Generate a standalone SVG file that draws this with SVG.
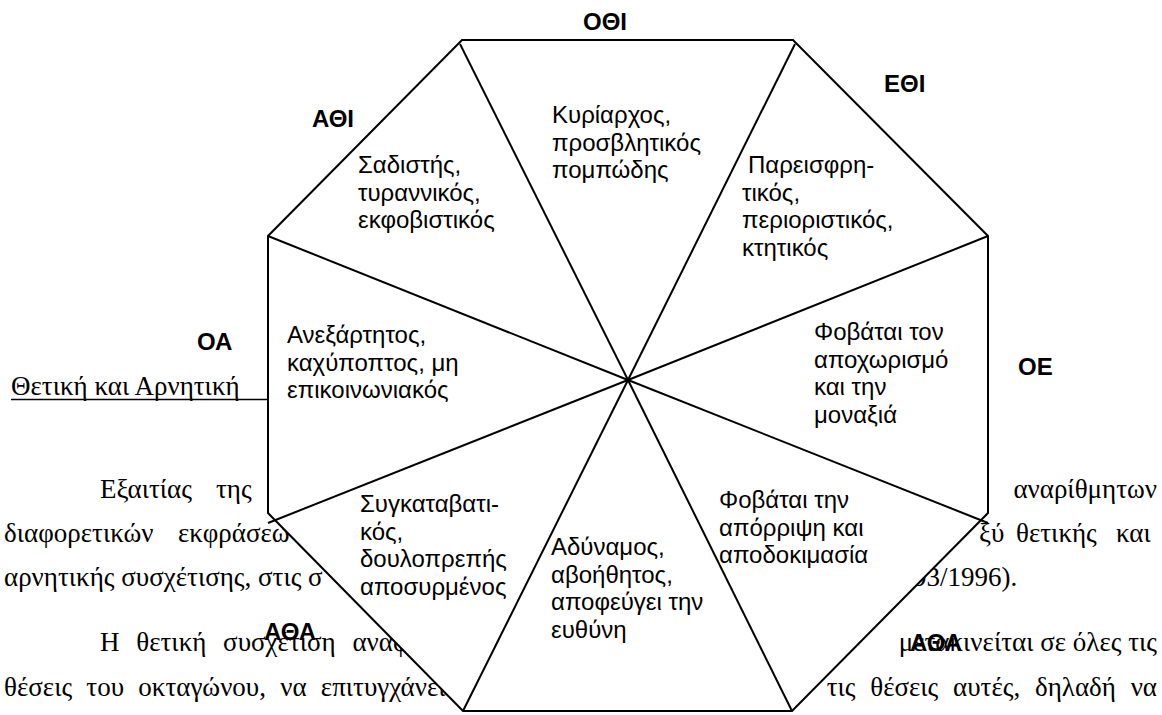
<svg xmlns="http://www.w3.org/2000/svg" width="1162" height="715" viewBox="0 0 1162 715">
<style>
.pg{font-family:"Liberation Serif","Times New Roman","DejaVu Serif",serif;font-size:27px;fill:#000}
.tx{font-family:"Liberation Sans",Arial,sans-serif;font-size:24px;fill:#000}
.lb{font-family:"Liberation Sans",Arial,sans-serif;font-size:24px;font-weight:bold;fill:#000}
.ln{stroke:#000;stroke-width:2;fill:none}
</style>
<rect width="1162" height="715" fill="#fff"/>
<g id="page-text">
<text class="pg" x="11" y="395">Θετική και Αρνητική</text>
<line x1="11" y1="399.5" x2="268" y2="399.5" stroke="#000" stroke-width="1.5"/>
<text class="pg" y="498"><tspan x="100">Εξαιτίας</tspan><tspan x="216">της</tspan></text>
<text class="pg" x="1157" y="498" text-anchor="end">αναρίθμητων</text>
<text class="pg" y="542"><tspan x="4">διαφορετικών</tspan><tspan x="178">εκφράσεω</tspan></text>
<text class="pg" y="542"><tspan x="979">ξύ</tspan><tspan x="1016">θετικής</tspan><tspan x="1116">και</tspan></text>
<text class="pg" x="4" y="586">αρνητικής συσχέτισης, στις σ</text>
<text class="pg" x="913" y="586">93/1996).</text>
<text class="pg" x="100" y="651" word-spacing="10">Η θετική συσχέτιση αναφ</text>
<text class="pg" x="1157" y="651" text-anchor="end">μετακινείται σε όλες τις</text>
<text class="pg" x="4" y="696" word-spacing="7.5">θέσεις του οκταγώνου, να επιτυγχάνει</text>
<text class="pg" x="1157" y="696" text-anchor="end" word-spacing="8">τις θέσεις αυτές, δηλαδή να</text>
</g>
<g id="octagon">
<polygon points="462,40 793,40 988,236 988,513 792,711 463,711 268,513 268,236" fill="#fff" stroke="#000" stroke-width="2" stroke-linejoin="miter"/>
</g>
<g id="connectors">
<line class="ln" x1="628" y1="380" x2="460" y2="44"/>
<line class="ln" x1="628" y1="380" x2="795" y2="44"/>
<line class="ln" x1="628" y1="380" x2="988" y2="236"/>
<line class="ln" x1="628" y1="380" x2="988" y2="523"/>
<line class="ln" x1="628" y1="380" x2="792" y2="711"/>
<line class="ln" x1="628" y1="380" x2="463" y2="711"/>
<line class="ln" x1="628" y1="380" x2="268" y2="523"/>
<line class="ln" x1="628" y1="380" x2="268" y2="236"/>
</g>
<g id="sector-athi">
<text class="lb" x="312" y="127">ΑΘΙ</text>
<text class="tx"><tspan x="358" y="173">Σαδιστής,</tspan><tspan x="358" y="200.6">τυραννικός,</tspan><tspan x="358" y="228.2">εκφοβιστικός</tspan></text>
</g>
<g id="sector-othi">
<text class="lb" x="583" y="30">ΟΘΙ</text>
<text class="tx"><tspan x="552" y="123">Κυρίαρχος,</tspan><tspan x="552" y="150.6">προσβλητικός</tspan><tspan x="552" y="178.2">πομπώδης</tspan></text>
</g>
<g id="sector-ethi">
<text class="lb" x="884" y="92">ΕΘΙ</text>
<text class="tx"><tspan x="748" y="173">Παρεισφρη-</tspan><tspan x="742" y="200.6">τικός,</tspan><tspan x="742" y="228.2">περιοριστικός,</tspan><tspan x="742" y="255.8">κτητικός</tspan></text>
</g>
<g id="sector-oe">
<text class="lb" x="1018" y="375">ΟΕ</text>
<text class="tx"><tspan x="814" y="340">Φοβάται τον</tspan><tspan x="814" y="367.6">αποχωρισμό</tspan><tspan x="814" y="395.2">και την</tspan><tspan x="814" y="422.8">μοναξιά</tspan></text>
</g>
<g id="sector-aoa-right">
<text class="tx"><tspan x="719" y="508">Φοβάται την</tspan><tspan x="719" y="535.6">απόρριψη και</tspan><tspan x="719" y="563.2">αποδοκιμασία</tspan></text>
<text class="lb" x="910" y="651">ΑΘΑ</text>
</g>
<g id="sector-oa-bottom">
<text class="tx"><tspan x="551" y="555">Αδύναμος,</tspan><tspan x="551" y="582.6">αβοήθητος,</tspan><tspan x="551" y="610.2">αποφεύγει την</tspan><tspan x="551" y="637.8">ευθύνη</tspan></text>
</g>
<g id="sector-aoa-left">
<text class="tx"><tspan x="360" y="512">Συγκαταβατι-</tspan><tspan x="360" y="539.6">κός,</tspan><tspan x="360" y="567.2">δουλοπρεπής</tspan><tspan x="360" y="594.8">αποσυρμένος</tspan></text>
<text class="lb" x="264" y="640">ΑΘΑ</text>
</g>
<g id="sector-oa">
<text class="lb" x="197" y="350">ΟΑ</text>
<text class="tx"><tspan x="287" y="343">Ανεξάρτητος,</tspan><tspan x="287" y="370.6">καχύποπτος, μη</tspan><tspan x="287" y="398.2">επικοινωνιακός</tspan></text>
</g>
</svg>
